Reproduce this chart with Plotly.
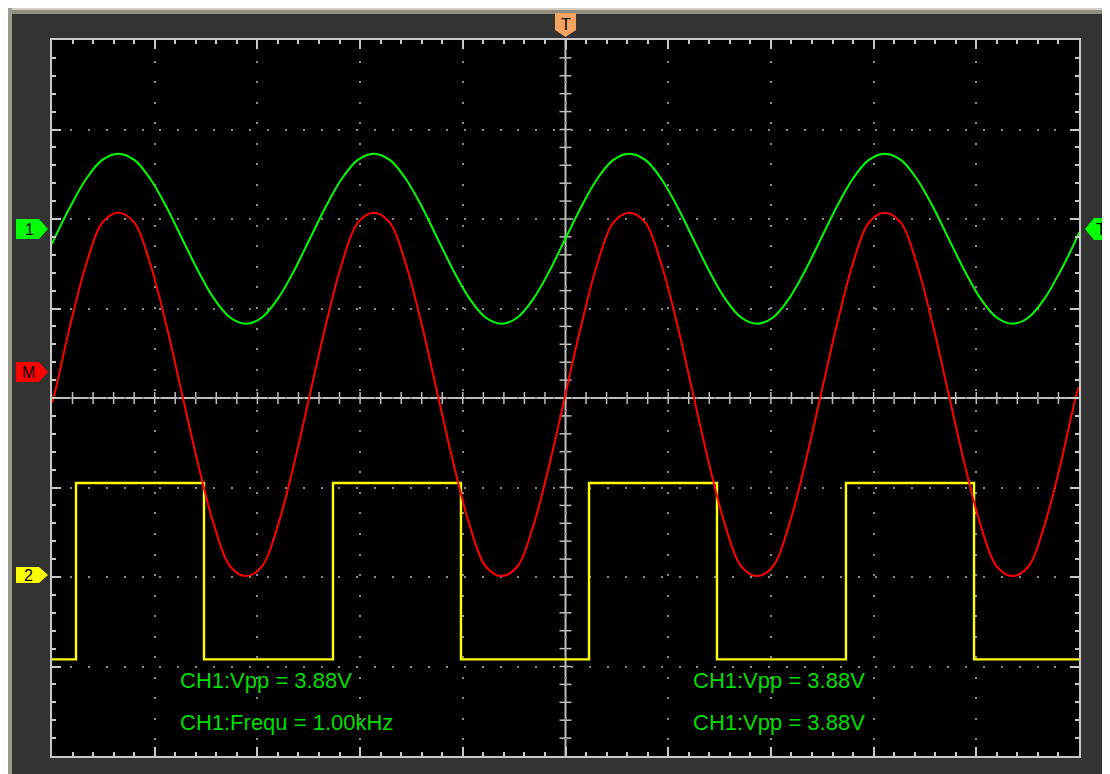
import plotly.graph_objects as go

# ---------------- data (in screen divisions: x 0..10, y -4..4) ----------------
time_div = [0.000, 0.023, 0.179, 0.334, 0.490, 0.645, 0.801, 0.956, 1.112,
            1.267, 1.423, 1.578, 1.734, 1.889, 2.045, 2.200, 2.356,
            2.511, 2.667, 2.822, 2.978, 3.133, 3.289, 3.444, 3.600,
            3.755, 3.911, 4.066, 4.222, 4.377, 4.533, 4.688, 4.844,
            4.999, 5.155, 5.310, 5.466, 5.621, 5.777, 5.932, 6.088,
            6.243, 6.399, 6.554, 6.710, 6.865, 7.021, 7.176, 7.332,
            7.487, 7.643, 7.798, 7.954, 8.109, 8.265, 8.420, 8.576,
            8.731, 8.887, 9.042, 9.198, 9.353, 9.509, 9.664, 9.820,
            9.975, 10.000]

ch1_div = [1.72, 1.78, 2.14, 2.45, 2.66, 2.73, 2.66, 2.45, 2.14,
           1.78, 1.42, 1.11, 0.90, 0.83, 0.90, 1.11, 1.42,
           1.78, 2.14, 2.45, 2.66, 2.73, 2.66, 2.45, 2.14,
           1.78, 1.42, 1.11, 0.90, 0.83, 0.90, 1.11, 1.42,
           1.78, 2.14, 2.45, 2.66, 2.73, 2.66, 2.45, 2.14,
           1.78, 1.42, 1.11, 0.90, 0.83, 0.90, 1.11, 1.42,
           1.78, 2.14, 2.45, 2.66, 2.73, 2.66, 2.45, 2.14,
           1.78, 1.42, 1.11, 0.90, 0.83, 0.90, 1.11, 1.42,
           1.78, 1.85]

math_div = [-0.05, 0.04, 0.82, 1.50, 1.96, 2.07, 1.96, 1.50, 0.82,
            0.04, -0.74, -1.42, -1.88, -1.99, -1.88, -1.42, -0.74,
            0.04, 0.82, 1.50, 1.96, 2.07, 1.96, 1.50, 0.82,
            0.04, -0.74, -1.42, -1.88, -1.99, -1.88, -1.42, -0.74,
            0.04, 0.82, 1.50, 1.96, 2.07, 1.96, 1.50, 0.82,
            0.04, -0.74, -1.42, -1.88, -1.99, -1.88, -1.42, -0.74,
            0.04, 0.82, 1.50, 1.96, 2.07, 1.96, 1.50, 0.82,
            0.04, -0.74, -1.42, -1.88, -1.99, -1.88, -1.42, -0.74,
            0.04, 0.12]

ch2_edges = [0.000, 0.234, 1.480, 2.736, 3.982, 5.229, 6.475, 7.731, 8.978, 10.000]
ch2_level = [-2.92, -0.95, -2.92, -0.95, -2.92, -0.95, -2.92, -0.95, -2.92, -2.92]

readouts = ["CH1:Vpp = 3.88V", "CH1:Frequ = 1.00kHz", "CH1:Vpp = 3.88V", "CH1:Vpp = 3.88V"]
readout_x = [1.225, 1.225, 6.22, 6.22]
readout_y = [-3.16, -3.63, -3.16, -3.63]

# ---------------- geometry helpers (page pixel coordinates) ----------------
OFF = 8                      # page body margin
W, H = 1110 - OFF, 774 - OFF  # figure size
L, R, T, B = 52, 1079, 40, 756  # plot box in page pixels


def px(xp):
    return (xp - L) / (R - L)


def py(yp):
    return (B - yp) / (B - T)


def ydiv(yp):
    return (398 - yp) / 89.5


FONT = "Liberation Sans, Arial, sans-serif"

fig = go.Figure()
fig.add_trace(go.Scatter(x=ch2_edges, y=ch2_level, mode="lines", line_shape="hv",
                         line=dict(color="#FFFF00", width=2.4), hoverinfo="skip"))
fig.add_trace(go.Scatter(x=time_div, y=ch1_div, mode="lines", line_shape="spline",
                         line=dict(color="#00FF00", width=2, smoothing=1.0), hoverinfo="skip"))
fig.add_trace(go.Scatter(x=time_div, y=math_div, mode="lines", line_shape="spline",
                         line=dict(color="#FF0000", width=2, smoothing=1.0), hoverinfo="skip"))

shapes = []
GRAY = "#BEBEBE"
# centre cross lines
shapes.append(dict(type="line", xref="x", yref="y", x0=5, x1=5, y0=-4, y1=4,
                   line=dict(color=GRAY, width=2), layer="below"))
shapes.append(dict(type="line", xref="x", yref="y", x0=0, x1=10, y0=0, y1=0,
                   line=dict(color=GRAY, width=2), layer="below"))
for k in range(1, 50):
    xv = k * 0.2
    shapes.append(dict(type="line", xref="x", yref="y", ysizemode="pixel", yanchor=0,
                       x0=xv, x1=xv, y0=-6, y1=6, line=dict(color=GRAY, width=1.5), layer="below"))
for k in range(-19, 20):
    if k == 0:
        continue
    yv = k * 0.2
    shapes.append(dict(type="line", xref="x", yref="y", xsizemode="pixel", xanchor=5,
                       x0=-6, x1=6, y0=yv, y1=yv, line=dict(color=GRAY, width=1.5), layer="below"))

# window frame strips
shapes.append(dict(type="rect", xref="paper", yref="paper", x0=px(8), x1=px(1110), y0=py(8), y1=py(10),
                   fillcolor="#D0CEC2", line=dict(width=0)))
shapes.append(dict(type="rect", xref="paper", yref="paper", x0=px(8), x1=px(1110), y0=py(10), y1=py(14),
                   fillcolor="#8E8C80", line=dict(width=0)))
shapes.append(dict(type="rect", xref="paper", yref="paper", x0=px(8), x1=px(12), y0=py(8), y1=py(774),
                   fillcolor="#9E9C8E", line=dict(width=0)))


# channel markers (pentagon flags)
def flag_right(y_div, color, half):
    return dict(type="path", xref="paper", yref="y", xsizemode="pixel", ysizemode="pixel",
                xanchor=px(16), yanchor=y_div,
                path=f"M0,{-half} L23,{-half} L32,0 L23,{half} L0,{half} Z",
                fillcolor=color, line=dict(width=0))


shapes.append(flag_right(ydiv(229), "#00FF00", 10))
shapes.append(flag_right(ydiv(372), "#FF0000", 10))
shapes.append(flag_right(ydiv(575), "#FFFF00", 8))
# right trigger-level flag (pointing left)
shapes.append(dict(type="path", xref="paper", yref="y", xsizemode="pixel", ysizemode="pixel",
                   xanchor=px(1085), yanchor=ydiv(229),
                   path="M0,0 L9,-11 L40,-11 L40,11 L9,11 Z",
                   fillcolor="#00FF00", line=dict(width=0)))
# top trigger-position flag (pointing down)
shapes.append(dict(type="path", xref="x", yref="paper", xsizemode="pixel", ysizemode="pixel",
                   xanchor=5, yanchor=py(25),
                   path="M-10.5,12 L10.5,12 L10.5,-5 L0,-12 L-10.5,-5 Z",
                   fillcolor="#F4A460", line=dict(width=0)))

annotations = []
for txt, xv, yv in zip(readouts, readout_x, readout_y):
    annotations.append(dict(text=txt, x=xv, y=yv, xref="x", yref="y", xanchor="left", yanchor="middle",
                            showarrow=False, font=dict(family=FONT, size=22, color="#00DD00")))

marker_font = dict(family=FONT, size=16, color="#000000")
annotations.append(dict(text="1", x=px(29), y=ydiv(229), xref="paper", yref="y", showarrow=False,
                        font=marker_font, xanchor="center", yanchor="middle"))
annotations.append(dict(text="M", x=px(28), y=ydiv(372), xref="paper", yref="y", showarrow=False,
                        font=marker_font, xanchor="center", yanchor="middle"))
annotations.append(dict(text="2", x=px(28), y=ydiv(575), xref="paper", yref="y", showarrow=False,
                        font=marker_font, xanchor="center", yanchor="middle"))
annotations.append(dict(text="T", x=px(1101), y=ydiv(229), xref="paper", yref="y", showarrow=False,
                        font=dict(family=FONT, size=17, color="#000000"), xanchor="center", yanchor="middle"))
annotations.append(dict(text="T", x=5, y=py(24), xref="x", yref="paper", showarrow=False,
                        font=marker_font, xanchor="center", yanchor="middle"))

axis_common = dict(showline=True, linecolor="#C8C8C8", linewidth=2, mirror="allticks",
                   ticks="inside", ticklen=9, tickwidth=2, tickcolor="#C8C8C8",
                   showticklabels=False, zeroline=False, showgrid=True,
                   gridcolor="#8A8A8A", gridwidth=2, fixedrange=True)

fig.update_layout(
    width=W, height=H, autosize=False,
    margin=dict(l=L - OFF, r=1110 - R, t=T - OFF, b=774 - B, pad=0),
    paper_bgcolor="#333333", plot_bgcolor="#000000",
    showlegend=False,
    xaxis=dict(range=[0, 10], dtick=1, tick0=0, griddash="2px,18.54px",
               minor=dict(dtick=0.2, tick0=0, ticks="inside", ticklen=4, tickwidth=2,
                          tickcolor="#C8C8C8", showgrid=False), **axis_common),
    yaxis=dict(range=[-4, 4], dtick=1, tick0=0, griddash="2px,15.9px",
               minor=dict(dtick=0.2, tick0=0, ticks="inside", ticklen=4, tickwidth=2,
                          tickcolor="#C8C8C8", showgrid=False), **axis_common),
    shapes=shapes,
    annotations=annotations,
)

fig.write_html("out.html")
